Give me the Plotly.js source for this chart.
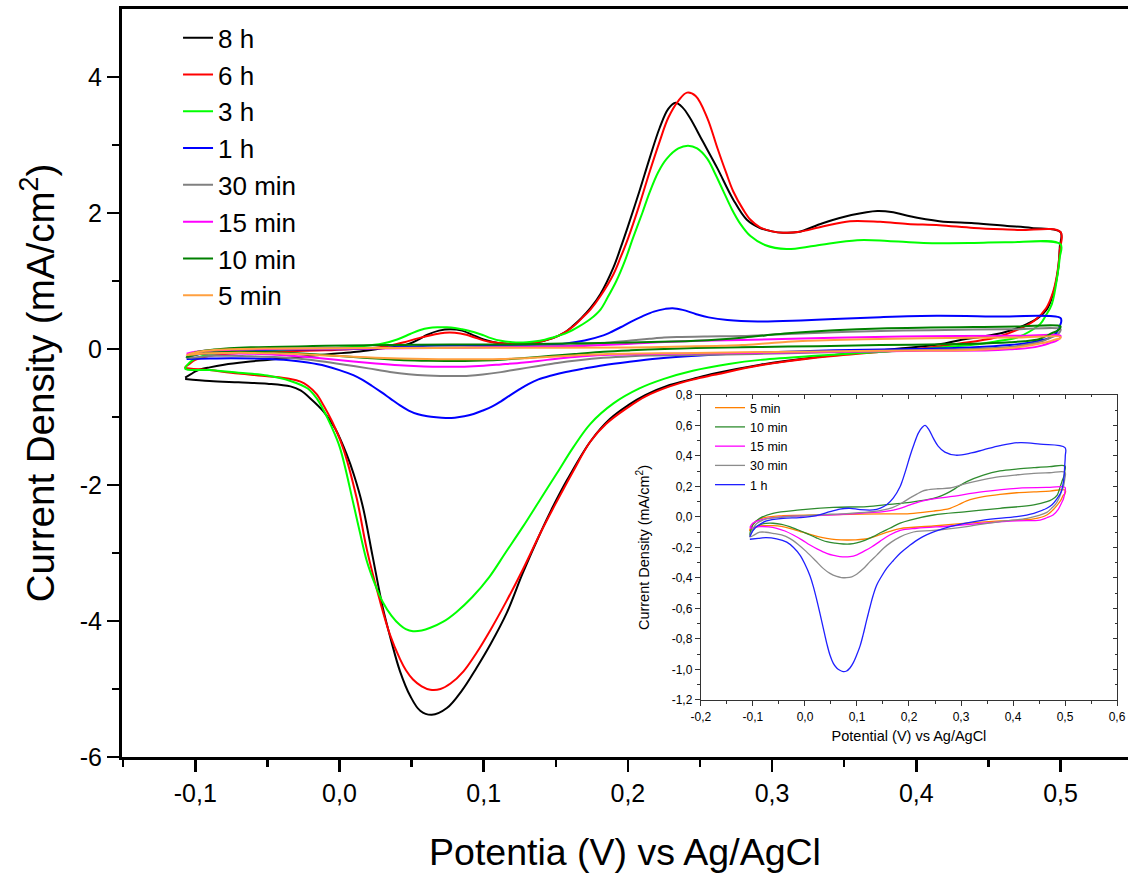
<!DOCTYPE html>
<html>
<head>
<meta charset="utf-8">
<script src="https://cdn.plot.ly/plotly-3.0.1.min.js"></script>
<style>html,body{margin:0;padding:0;background:#fff;}#chart{width:1128px;height:887px;}</style>
</head>
<body>
<div id="chart"></div>
<script>
// ---------- data (potential in V vs Ag/AgCl, current density in mA/cm2) ----------
const seriesNames = ['8 h', '6 h', '3 h', '1 h', '30 min', '15 min', '10 min', '5 min'];
const insetNames = ['5 min', '10 min', '15 min', '30 min', '1 h'];

const potential_8h = [-0.107,-0.103,-0.099,-0.09,-0.08,-0.065,-0.05,-0.035,-0.02,-0.004,0.012,0.03,0.042,0.049,0.055,0.061,0.069,0.077,0.085,0.093,0.1,0.107,0.115,0.123,0.135,0.148,0.156,0.162,0.168,0.174,0.181,0.19,0.195,0.2,0.208,0.215,0.222,0.228,0.233,0.238,0.243,0.252,0.262,0.273,0.2825,0.2916,0.3,0.3076,0.318,0.335,0.355,0.373,0.384,0.394,0.416,0.44,0.463,0.48,0.5,
  0.4995,0.4985,0.496,0.491,0.484,0.477,0.468,0.46,0.445,0.43,0.416,0.39,0.37,0.33,0.292,0.26,0.245,0.229,0.212,0.2,0.1875,0.174,0.158,0.148,0.139,0.127,0.116,0.105,0.095,0.085,0.0745,0.064,0.056,0.049,0.042,0.036,0.03,0.023,0.016,0.01,0.005,-0.003,-0.011,-0.02,-0.027,-0.034,-0.05,-0.07,-0.09,-0.107];
const current_8h = [-0.42,-0.37,-0.32,-0.27,-0.23,-0.19,-0.16,-0.13,-0.1,-0.07,-0.04,0.01,0.04,0.08,0.14,0.21,0.27,0.29,0.27,0.2,0.14,0.1,0.08,0.07,0.09,0.16,0.24,0.34,0.46,0.6,0.81,1.2,1.49,1.8,2.32,2.8,3.25,3.53,3.62,3.55,3.4,3.05,2.66,2.2,1.9,1.78,1.73,1.71,1.72,1.85,1.97,2.03,2.01,1.96,1.88,1.85,1.81,1.78,1.72,
  1.5,1.2,0.9,0.6,0.45,0.37,0.29,0.24,0.18,0.13,0.07,0.01,-0.03,-0.12,-0.23,-0.36,-0.44,-0.53,-0.68,-0.83,-1.03,-1.36,-1.92,-2.32,-2.72,-3.3,-3.88,-4.33,-4.69,-5.02,-5.28,-5.38,-5.32,-5.1,-4.74,-4.3,-3.8,-3.05,-2.3,-1.85,-1.55,-1.17,-0.92,-0.73,-0.61,-0.55,-0.51,-0.49,-0.47,-0.44];

const potential_6h = [-0.107,-0.104,-0.1,-0.09,-0.07,-0.05,-0.03,-0.01,0.01,0.025,0.035,0.045,0.055,0.065,0.073,0.08,0.088,0.095,0.103,0.11,0.123,0.135,0.148,0.156,0.162,0.168,0.174,0.181,0.19,0.195,0.2,0.208,0.215,0.222,0.228,0.235,0.241,0.247,0.255,0.262,0.268,0.273,0.28,0.285,0.2916,0.3,0.3076,0.318,0.335,0.354,0.375,0.394,0.416,0.44,0.47,0.5,
  0.4995,0.498,0.495,0.49,0.482,0.47,0.455,0.43,0.4,0.37,0.33,0.292,0.26,0.245,0.229,0.212,0.2,0.185,0.174,0.162,0.15,0.139,0.127,0.116,0.105,0.095,0.086,0.077,0.07,0.063,0.057,0.051,0.046,0.042,0.035,0.028,0.019,0.012,0.0024,-0.005,-0.011,-0.016,-0.022,-0.027,-0.034,-0.05,-0.07,-0.09,-0.107];
const current_6h = [-0.27,-0.22,-0.16,-0.1,-0.06,-0.04,-0.03,-0.02,0.0,0.02,0.05,0.1,0.16,0.21,0.24,0.24,0.21,0.16,0.11,0.09,0.07,0.09,0.16,0.24,0.33,0.45,0.58,0.78,1.1,1.35,1.62,2.12,2.6,3.05,3.4,3.65,3.77,3.72,3.4,2.96,2.6,2.32,2.05,1.9,1.79,1.73,1.71,1.72,1.8,1.88,1.87,1.84,1.82,1.78,1.75,1.72,
  1.45,1.15,0.85,0.6,0.42,0.28,0.17,0.08,0.0,-0.05,-0.13,-0.24,-0.38,-0.45,-0.55,-0.7,-0.86,-1.1,-1.36,-1.8,-2.27,-2.72,-3.25,-3.7,-4.12,-4.47,-4.74,-4.92,-5.0,-5.01,-4.96,-4.86,-4.72,-4.56,-4.2,-3.7,-2.95,-2.2,-1.45,-1.07,-0.83,-0.66,-0.54,-0.48,-0.44,-0.4,-0.36,-0.31,-0.27];

const potential_3h = [-0.107,-0.104,-0.1,-0.09,-0.07,-0.05,-0.027,0.0,0.015,0.03,0.04,0.049,0.056,0.062,0.068,0.0745,0.08,0.085,0.093,0.1,0.105,0.112,0.12,0.13,0.139,0.148,0.158,0.166,0.174,0.181,0.186,0.192,0.198,0.2035,0.21,0.215,0.221,0.227,0.235,0.2417,0.248,0.255,0.26,0.266,0.272,0.278,0.285,0.295,0.31,0.33,0.359,0.38,0.405,0.44,0.463,0.5,
  0.4995,0.498,0.494,0.49,0.486,0.478,0.47,0.455,0.443,0.42,0.4,0.361,0.33,0.292,0.27,0.245,0.225,0.208,0.19,0.174,0.162,0.151,0.139,0.127,0.115,0.104,0.092,0.081,0.072,0.063,0.057,0.051,0.046,0.042,0.036,0.03,0.025,0.019,0.014,0.0094,0.0003,-0.006,-0.011,-0.016,-0.022,-0.034,-0.05,-0.07,-0.09,-0.107];
const current_3h = [-0.29,-0.2,-0.14,-0.08,-0.04,-0.02,0.0,0.02,0.04,0.08,0.14,0.22,0.28,0.31,0.32,0.32,0.31,0.29,0.25,0.2,0.16,0.12,0.1,0.1,0.12,0.17,0.24,0.33,0.44,0.58,0.76,1.0,1.3,1.63,2.0,2.3,2.6,2.8,2.95,2.99,2.95,2.8,2.6,2.33,2.06,1.84,1.66,1.53,1.47,1.52,1.6,1.59,1.56,1.56,1.57,1.54,
  1.35,1.1,0.66,0.5,0.37,0.25,0.17,0.11,0.07,0.03,-0.01,-0.06,-0.1,-0.16,-0.22,-0.32,-0.44,-0.58,-0.8,-1.1,-1.45,-1.82,-2.22,-2.62,-3.0,-3.35,-3.65,-3.87,-4.01,-4.1,-4.14,-4.15,-4.12,-4.06,-3.92,-3.72,-3.48,-3.12,-2.68,-2.25,-1.45,-1.12,-0.9,-0.72,-0.58,-0.47,-0.39,-0.35,-0.31,-0.29];

const potential_1h = [-0.106,-0.1,-0.093,-0.074,-0.042,-0.01,0.022,0.048,0.067,0.0865,0.106,0.131,0.145,0.157,0.17,0.183,0.1875,0.195,0.202,0.21,0.218,0.226,0.231,0.238,0.247,0.256,0.269,0.29,0.32,0.343,0.375,0.414,0.452,0.5,
  0.5005,0.4995,0.497,0.492,0.485,0.475,0.465,0.44,0.407,0.343,0.279,0.25,0.221,0.2,0.183,0.17,0.157,0.147,0.138,0.131,0.125,0.118,0.112,0.106,0.0994,0.093,0.0865,0.08,0.0737,0.067,0.061,0.0545,0.048,0.042,0.0353,0.029,0.0224,0.016,0.0096,0.0,-0.0096,-0.022,-0.035,-0.0545,-0.075,-0.09,-0.106];
const current_1h = [-0.13,-0.09,-0.063,-0.026,-0.009,-0.004,0.009,0.035,0.052,0.057,0.048,0.046,0.058,0.08,0.125,0.2,0.24,0.32,0.4,0.48,0.55,0.59,0.6,0.575,0.515,0.465,0.425,0.405,0.42,0.44,0.468,0.488,0.477,0.455,
  0.4,0.34,0.232,0.16,0.122,0.08,0.057,0.024,0.002,-0.02,-0.063,-0.095,-0.14,-0.19,-0.238,-0.285,-0.337,-0.39,-0.446,-0.515,-0.59,-0.685,-0.77,-0.845,-0.905,-0.955,-0.99,-1.01,-1.014,-1.005,-0.99,-0.96,-0.905,-0.83,-0.73,-0.635,-0.54,-0.455,-0.385,-0.31,-0.25,-0.2,-0.165,-0.143,-0.135,-0.14,-0.146];

const potential_30min = [-0.106,-0.1,-0.093,-0.074,-0.042,0.022,0.0865,0.13,0.151,0.168,0.183,0.202,0.215,0.225,0.234,0.255,0.279,0.311,0.343,0.375,0.41,0.44,0.47,0.5,
  0.4995,0.497,0.493,0.488,0.482,0.475,0.465,0.45,0.427,0.375,0.311,0.247,0.215,0.202,0.183,0.166,0.151,0.138,0.125,0.112,0.0994,0.09,0.08,0.07,0.061,0.048,0.035,0.02,0.0026,-0.013,-0.0295,-0.045,-0.0615,-0.075,-0.087,-0.106];
const current_30min = [-0.13,-0.08,-0.042,-0.013,0.0,0.013,0.024,0.035,0.046,0.062,0.085,0.125,0.15,0.168,0.177,0.185,0.19,0.221,0.245,0.264,0.277,0.286,0.29,0.293,
  0.25,0.2,0.166,0.12,0.085,0.06,0.03,0.01,-0.009,-0.03,-0.063,-0.088,-0.095,-0.105,-0.13,-0.165,-0.205,-0.25,-0.293,-0.34,-0.375,-0.392,-0.398,-0.397,-0.39,-0.37,-0.337,-0.285,-0.227,-0.18,-0.14,-0.118,-0.107,-0.1,-0.1,-0.13];

const potential_15min = [-0.106,-0.1,-0.087,-0.042,0.022,0.0865,0.151,0.17,0.183,0.202,0.221,0.25,0.279,0.343,0.407,0.471,0.5,
  0.4995,0.497,0.493,0.487,0.477,0.465,0.452,0.407,0.343,0.279,0.215,0.183,0.163,0.144,0.128,0.112,0.1,0.0865,0.067,0.055,0.0417,0.025,0.0096,-0.006,-0.0225,-0.0385,-0.0545,-0.07,-0.087,-0.106];
const current_15min = [-0.07,-0.04,-0.02,0.002,0.009,0.02,0.035,0.045,0.057,0.079,0.1,0.12,0.133,0.166,0.188,0.194,0.194,
  0.16,0.12,0.09,0.05,0.013,-0.005,-0.02,-0.026,-0.041,-0.059,-0.074,-0.088,-0.118,-0.16,-0.197,-0.227,-0.248,-0.26,-0.26,-0.252,-0.238,-0.212,-0.184,-0.15,-0.118,-0.092,-0.074,-0.065,-0.063,-0.074];

const potential_10min = [-0.106,-0.1,-0.087,-0.0615,-0.0096,0.054,0.119,0.163,0.202,0.23,0.247,0.263,0.279,0.295,0.311,0.343,0.375,0.41,0.44,0.47,0.5,
  0.4995,0.498,0.494,0.49,0.485,0.475,0.465,0.44,0.375,0.311,0.247,0.202,0.183,0.163,0.147,0.131,0.115,0.0994,0.0865,0.0737,0.058,0.0417,0.022,0.0026,-0.015,-0.0295,-0.045,-0.0615,-0.075,-0.087,-0.1,-0.106];
const current_10min = [-0.118,-0.05,-0.009,0.024,0.046,0.063,0.068,0.083,0.096,0.11,0.122,0.14,0.166,0.2,0.232,0.275,0.302,0.315,0.323,0.33,0.334,
  0.3,0.27,0.232,0.19,0.144,0.115,0.1,0.079,0.057,0.035,0.013,-0.02,-0.04,-0.074,-0.1,-0.129,-0.153,-0.17,-0.177,-0.177,-0.172,-0.162,-0.137,-0.107,-0.082,-0.063,-0.048,-0.041,-0.042,-0.052,-0.085,-0.118];

const potential_5min = [-0.106,-0.1,-0.087,-0.042,0.022,0.0865,0.151,0.202,0.247,0.265,0.279,0.295,0.311,0.325,0.343,0.375,0.407,0.44,0.471,0.5,
  0.4995,0.497,0.492,0.485,0.475,0.465,0.44,0.375,0.311,0.247,0.183,0.163,0.144,0.128,0.112,0.096,0.08,0.06,0.0417,0.025,0.0096,-0.01,-0.0295,-0.0455,-0.0615,-0.077,-0.093,-0.106];
const current_5min = [-0.09,-0.05,-0.013,0.009,0.013,0.017,0.02,0.022,0.039,0.047,0.057,0.08,0.105,0.12,0.133,0.148,0.159,0.165,0.17,0.177,
  0.15,0.144,0.11,0.078,0.04,0.013,-0.013,-0.026,-0.041,-0.059,-0.076,-0.095,-0.116,-0.135,-0.146,-0.15,-0.151,-0.148,-0.14,-0.128,-0.114,-0.094,-0.074,-0.062,-0.057,-0.057,-0.063,-0.09];

// tick labels
const mainXTickVals = [-0.1, 0.0, 0.1, 0.2, 0.3, 0.4, 0.5];
const mainXTickText = ['-0,1', '0,0', '0,1', '0,2', '0,3', '0,4', '0,5'];
const mainYTickVals = [-6, -4, -2, 0, 2, 4];
const mainYTickText = ['-6', '-4', '-2', '0', '2', '4'];
const insetXTickVals = [-0.2, -0.1, 0.0, 0.1, 0.2, 0.3, 0.4, 0.5, 0.6];
const insetXTickText = ['-0,2', '-0,1', '0,0', '0,1', '0,2', '0,3', '0,4', '0,5', '0,6'];
const insetYTickVals = [-1.2, -1.0, -0.8, -0.6, -0.4, -0.2, 0.0, 0.2, 0.4, 0.6, 0.8];
const insetYTickText = ['-1,2', '-1,0', '-0,8', '-0,6', '-0,4', '-0,2', '0,0', '0,2', '0,4', '0,6', '0,8'];

// ---------- build ----------
const seriesData = {
  '8 h': [potential_8h, current_8h],
  '6 h': [potential_6h, current_6h],
  '3 h': [potential_3h, current_3h],
  '1 h': [potential_1h, current_1h],
  '30 min': [potential_30min, current_30min],
  '15 min': [potential_15min, current_15min],
  '10 min': [potential_10min, current_10min],
  '5 min': [potential_5min, current_5min]
};
const mainColors = {'8 h':'#000000','6 h':'#FF0000','3 h':'#00FF00','1 h':'#0000FF','30 min':'#808080','15 min':'#FF00FF','10 min':'#008000','5 min':'#FFA040'};
const insetColors = {'5 min':'#FF8000','10 min':'#2E8B2E','15 min':'#FF00FF','30 min':'#8C8C8C','1 h':'#1F1FFF'};

const traces = [];
seriesNames.forEach(n => {
  traces.push({
    x: seriesData[n][0], y: seriesData[n][1], name: n, type: 'scatter', mode: 'lines',
    line: {color: mainColors[n], width: 2, shape: 'spline', smoothing: 1},
    xaxis: 'x', yaxis: 'y', legend: 'legend', hoverinfo: 'skip'
  });
});
insetNames.forEach(n => {
  traces.push({
    x: seriesData[n][0], y: seriesData[n][1], name: n, type: 'scatter', mode: 'lines',
    line: {color: insetColors[n], width: 1.3, shape: 'spline', smoothing: 1},
    xaxis: 'x2', yaxis: 'y2', legend: 'legend2', hoverinfo: 'skip'
  });
});
// helper trace for mirrored inset ticks (top/right, inside)
traces.push({x: [null], y: [null], xaxis: 'x3', yaxis: 'y3', showlegend: false, hoverinfo: 'skip', mode: 'lines'});

const FONT = 'Liberation Sans, Arial, Helvetica, sans-serif';
const minorMainX = [-0.15, -0.05, 0.05, 0.15, 0.25, 0.35, 0.45];
const minorMainY = [-5, -3, -1, 1, 3];
const minorInsetX = [-0.15, -0.05, 0.05, 0.15, 0.25, 0.35, 0.45, 0.55];
const minorInsetY = [-1.1, -0.9, -0.7, -0.5, -0.3, -0.1, 0.1, 0.3, 0.5, 0.7];

const layout = {
  width: 1128, height: 887,
  margin: {l: 122, r: 0, t: 9, b: 130, pad: 0},
  paper_bgcolor: '#ffffff', plot_bgcolor: '#ffffff',
  font: {family: FONT, color: '#000000'},
  xaxis: {
    domain: [0, 1], anchor: 'y', range: [-0.1508, 0.5468],
    tickmode: 'array', tickvals: mainXTickVals, ticktext: mainXTickText,
    ticks: 'outside', ticklen: 12, tickwidth: 2.5, tickcolor: '#000',
    minor: {tickmode: 'array', tickvals: minorMainX, ticks: 'outside', ticklen: 7, tickwidth: 2.5, tickcolor: '#000'},
    showline: true, linewidth: 3, linecolor: '#000', mirror: true,
    showgrid: false, zeroline: false, tickfont: {size: 25, family: FONT},
    title: {text: 'Potentia (V) vs Ag/AgCl', font: {size: 37.5, family: FONT}, standoff: 33}
  },
  yaxis: {
    domain: [0, 1], anchor: 'x', range: [-6, 5],
    tickmode: 'array', tickvals: mainYTickVals, ticktext: mainYTickText,
    ticks: 'outside', ticklen: 12, tickwidth: 2.5, tickcolor: '#000',
    minor: {tickmode: 'array', tickvals: minorMainY, ticks: 'outside', ticklen: 7, tickwidth: 2.5, tickcolor: '#000'},
    showline: true, linewidth: 3, linecolor: '#000', mirror: false,
    showgrid: false, zeroline: false, tickfont: {size: 25, family: FONT},
    title: {text: 'Current Density (mA/cm<sup>2</sup>)', font: {size: 38.5, family: FONT}, standoff: 14}
  },
  xaxis2: {
    domain: [0.5755, 0.9891], anchor: 'y2', range: [-0.2, 0.6],
    tickmode: 'array', tickvals: insetXTickVals, ticktext: insetXTickText,
    ticks: 'outside', ticklen: 5, tickwidth: 1, tickcolor: '#333',
    minor: {tickmode: 'array', tickvals: minorInsetX, ticks: 'outside', ticklen: 3, tickwidth: 1, tickcolor: '#333'},
    showline: true, linewidth: 1.2, linecolor: '#333', mirror: true,
    showgrid: false, zeroline: false, tickfont: {size: 12, family: FONT},
    title: {text: 'Potential (V) vs Ag/AgCl', font: {size: 14.5, family: FONT}, standoff: 8}
  },
  yaxis2: {
    domain: [0.0762, 0.4840], anchor: 'x2', range: [-1.2, 0.8],
    tickmode: 'array', tickvals: insetYTickVals, ticktext: insetYTickText,
    ticks: 'outside', ticklen: 5, tickwidth: 1, tickcolor: '#333',
    minor: {tickmode: 'array', tickvals: minorInsetY, ticks: 'outside', ticklen: 3, tickwidth: 1, tickcolor: '#333'},
    showline: true, linewidth: 1.2, linecolor: '#333', mirror: true,
    showgrid: false, zeroline: false, tickfont: {size: 12, family: FONT},
    title: {text: 'Current Density (mA/cm<sup>2</sup>)', font: {size: 14.5, family: FONT}, standoff: 18}
  },
  xaxis3: {
    overlaying: 'x2', anchor: 'y2', side: 'top', range: [-0.2, 0.6],
    tickmode: 'array', tickvals: insetXTickVals, ticks: 'inside', ticklen: 4, tickwidth: 1, tickcolor: '#333',
    minor: {tickmode: 'array', tickvals: minorInsetX, ticks: 'inside', ticklen: 2, tickwidth: 1, tickcolor: '#333'},
    showticklabels: false, showline: false, showgrid: false, zeroline: false
  },
  yaxis3: {
    overlaying: 'y2', anchor: 'x2', side: 'right', range: [-1.2, 0.8],
    tickmode: 'array', tickvals: insetYTickVals, ticks: 'inside', ticklen: 4, tickwidth: 1, tickcolor: '#333',
    minor: {tickmode: 'array', tickvals: minorInsetY, ticks: 'inside', ticklen: 2, tickwidth: 1, tickcolor: '#333'},
    showticklabels: false, showline: false, showgrid: false, zeroline: false
  },
  showlegend: true,
  legend: {
    x: 0.0557, y: 0.993, xanchor: 'left', yanchor: 'top',
    bgcolor: 'rgba(0,0,0,0)', borderwidth: 0, font: {size: 26, family: FONT}, tracegroupgap: 0
  },
  legend2: {
    x: 0.5845, y: 0.4866, xanchor: 'left', yanchor: 'top',
    bgcolor: 'rgba(0,0,0,0)', borderwidth: 0, font: {size: 12.5, family: FONT}, tracegroupgap: 0
  }
};

Plotly.newPlot('chart', traces, layout, {staticPlot: true, displayModeBar: false});
</script>
</body>
</html>
